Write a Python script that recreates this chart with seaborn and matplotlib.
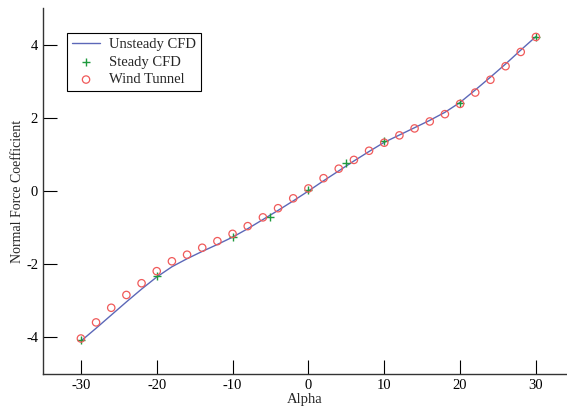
import matplotlib
matplotlib.use("Agg")
import matplotlib.pyplot as plt
import seaborn as sns

# Unsteady CFD (line)
cfd_alpha = [-30, -28, -26, -24, -22, -20, -18, -16, -14, -12, -10, -8, -6, -4, -2,
             0, 2, 4, 6, 8, 10, 12, 14, 16, 18, 20, 22, 24, 26, 28, 30]
cfd_cn = [-4.10, -3.75, -3.39, -3.03, -2.68, -2.35, -2.07, -1.85, -1.65, -1.46, -1.26,
          -1.03, -0.78, -0.53, -0.27, 0.00, 0.28, 0.55, 0.82, 1.08, 1.33, 1.53, 1.73,
          1.93, 2.15, 2.42, 2.76, 3.11, 3.47, 3.85, 4.22]

# Steady CFD (+ markers)
steady_alpha = [-30, -20, -10, -5, 0, 5, 10, 20, 30]
steady_cn = [-4.06, -2.32, -1.25, -0.71, 0.04, 0.77, 1.36, 2.40, 4.22]

# Wind Tunnel (open circles)
wt_alpha = [-30, -28, -26, -24, -22, -20, -18, -16, -14, -12, -10, -8, -6, -4, -2,
            0, 2, 4, 6, 8, 10, 12, 14, 16, 18, 20, 22, 24, 26, 28, 30]
wt_cn = [-4.03, -3.59, -3.19, -2.84, -2.52, -2.19, -1.92, -1.74, -1.55, -1.37, -1.17,
         -0.96, -0.72, -0.47, -0.20, 0.07, 0.35, 0.61, 0.85, 1.10, 1.32, 1.52, 1.71,
         1.90, 2.10, 2.38, 2.69, 3.04, 3.41, 3.80, 4.21]

sns.set_style("ticks")
plt.rcParams["font.family"] = ["Liberation Serif", "DejaVu Serif"]
plt.rcParams["axes.unicode_minus"] = False

fig = plt.figure(figsize=(5.67, 4.11), dpi=100)
ax = fig.add_axes([0.0758, 0.09, 0.9242, 0.8905])

sns.lineplot(x=cfd_alpha, y=cfd_cn, ax=ax, color="#5c68b8", linewidth=1.0,
             label="Unsteady CFD")
sns.scatterplot(x=steady_alpha, y=steady_cn, ax=ax, marker="+", color="#1f9a3e",
                s=40, linewidth=1.0, label="Steady CFD", zorder=3)
sns.scatterplot(x=wt_alpha, y=wt_cn, ax=ax, marker="o", facecolors="none",
                edgecolor="#f05a5a", s=28, linewidth=0.9, label="Wind Tunnel", zorder=4)

ax.set_xlim(-35, 34.1)
ax.set_ylim(-5, 5)
ax.set_xticks([-30, -20, -10, 0, 10, 20, 30])
ax.set_yticks([-4, -2, 0, 2, 4])
ax.tick_params(direction="in", length=10, width=0.8, labelsize=10.5, colors="black")
ax.set_xlabel("Alpha", fontsize=10.5, labelpad=1)
ax.set_ylabel("Normal Force Coefficient", fontsize=10)
ax.yaxis.set_label_coords(-0.037, 0.5)
sns.despine(ax=ax)
for sp in ["left", "bottom"]:
    ax.spines[sp].set_color("#333333")
    ax.spines[sp].set_linewidth(1.0)

leg = ax.legend(loc="upper left", bbox_to_anchor=(0.046, 0.932), borderaxespad=0,
                fontsize=10.5, frameon=True, fancybox=False, edgecolor="black",
                framealpha=1, handlelength=1.9, handletextpad=0.6, borderpad=0.35,
                labelspacing=0.3)
leg.get_frame().set_linewidth(0.8)

fig.savefig("out.png", dpi=100)
